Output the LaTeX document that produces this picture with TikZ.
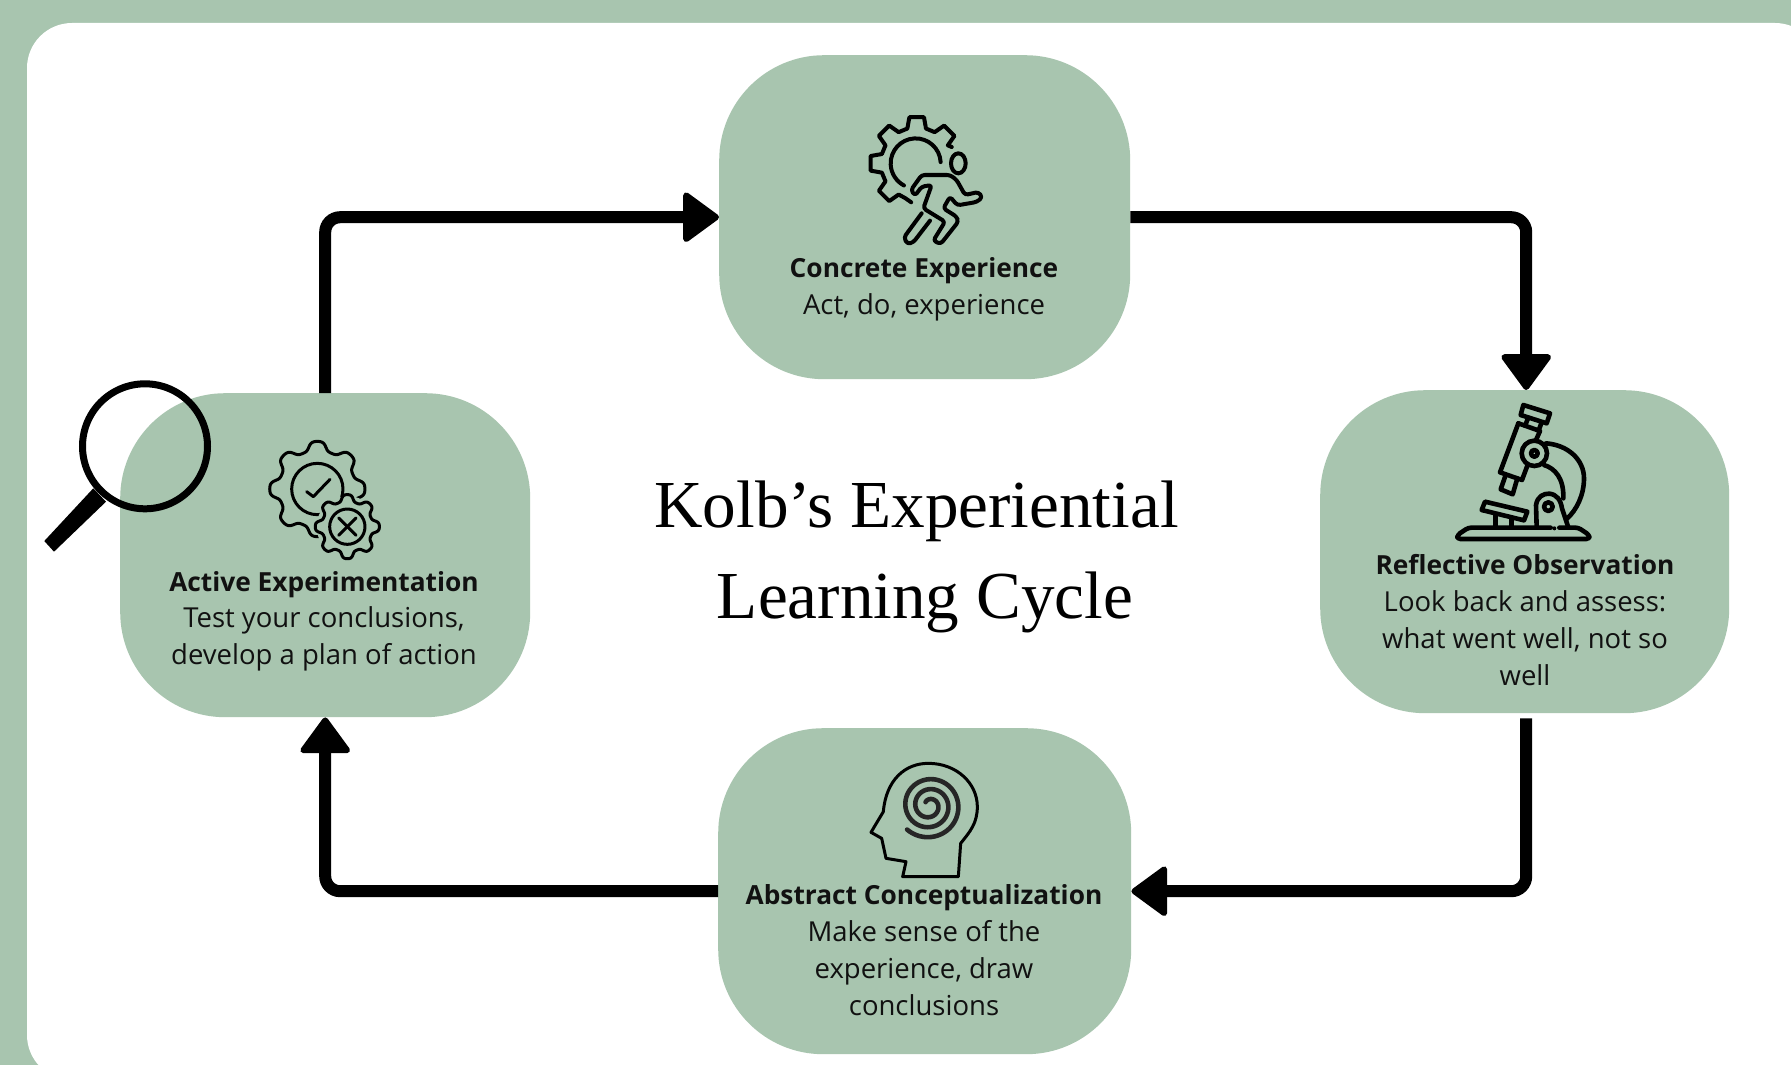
\documentclass[tikz,border=0pt]{standalone}
\usepackage{fontspec}
\setmainfont{Open Sans}
\newfontfamily\titlefont{Liberation Serif}
\usetikzlibrary{arrows.meta}
\definecolor{sage}{HTML}{A8C5AF}
\definecolor{ink}{HTML}{111111}
\newcommand{\headline}[1]{{\fontsize{26.3}{36.7}\selectfont\textbf{#1}}}
\tikzset{
  x=1pt,y=-1pt,
  stage/.style={draw=none,fill=sage,rounded corners=105pt,inner sep=0pt,anchor=north west},
  flow/.style={draw=black,line width=12pt,rounded corners=15pt,
    -{Triangle[length=38pt,width=54pt,line width=6pt,round]}},
  lbl/.style={inner sep=0pt,align=center,anchor=base,text=ink,
    font=\fontsize{27.5}{36.7}\selectfont},
  ttl/.style={inner sep=0pt,anchor=base,text=black,
    font=\titlefont\fontsize{67.2}{91}\selectfont},
  icon/.style={draw=black,line width=4pt,line join=round,line cap=round},
  iconbold/.style={draw=black,line width=4.6pt,line join=round,line cap=round},
  iconthin/.style={draw=black,line width=3pt,line join=round,line cap=round},
}
\begin{document}
\begin{tikzpicture}
\useasboundingbox (0,0) rectangle (1791,1065);
\begin{scope}
\clip (0,0) rectangle (1791,1065);
\fill[sage] (0,0) rectangle (1791,1065);
\fill[white,rounded corners=45pt] (27,23) rectangle (1820,1080);
\end{scope}

% stages
\node[stage,minimum width=411pt,minimum height=324pt] (conc) at (719,55) {};
\node[stage,minimum width=409pt,minimum height=323pt] (refl) at (1320,390) {};
\node[stage,minimum width=413pt,minimum height=326pt] (abst) at (718,728) {};
\node[stage,minimum width=410pt,minimum height=324pt] (actv) at (120,393) {};

% connectors
\coordinate (reflout) at ([xshift=1.5pt,yshift=-5pt]refl.south);
\draw[flow] (conc.east) -| ([xshift=1.5pt]refl.north);
\draw[flow] (reflout) |- (abst.east);
\draw[flow] (abst.west) -| (actv.south);
\draw[flow] (actv.north) |- (conc.west);

% labels
\node[lbl] (concT) at (924,314) {\headline{Concrete Experience}\\Act, do, experience};
\node[lbl] (reflT) at (1525,685) {\headline{Reflective Observation}\\Look back and assess:\\what went well, not so\\well};
\node[lbl] (abstT) at (924,1015) {\headline{Abstract Conceptualization}\\Make sense of the\\experience, draw\\conclusions};
\node[lbl] (actvT) at (324,664.5) {\headline{Active Experimentation}\\Test your conclusions,\\develop a plan of action};
\node[ttl] (titleA) at (916.6,527) {Kolb’s Experiential};
\node[ttl] (titleB) at (925,618) {Learning Cycle};

% magnifier
\draw[line width=7pt,black] (145,446.3) circle[radius=62.5];
\fill[black] (93.3,488.3) -- (106,501.7) -- (54,551.7) -- (44.3,541) -- cycle;

% runner and gear
\begin{scope}[shift={(850,100)},scale=1/3]
  \begin{scope}[shift={(200,190)}]
    \draw[icon] (-25:116) -- (-30:108)
      \foreach \a in {45,90,135,180,225} { -- (-\a+15:108) -- (-\a+9:140) -- (-\a-9:140) -- (-\a-15:108) }
      -- (-252:110) -- (-262:118);
    \draw[icon] (-3:72) arc[start angle=-3,end angle=-242,radius=75];
  \end{scope}
  \draw[icon] (325,190) ellipse[x radius=22,y radius=30];
  \draw[icon,rounded corners=3pt] (215,225) -- (300,225) -- (320,240) -- (345,285) -- (385,276) -- (397,292) -- (380,306) -- (322,316) -- (300,290) -- (280,325) -- (320,350) -- (325,365) -- (272,432) -- (250,422) -- (285,365) -- (220,325) -- (245,255) -- (215,260) -- (195,287) -- (183,270) -- cycle;
  \draw[icon,rounded corners=3pt] (215,340) -- (162,412) -- (172,432) -- (190,427) -- (240,362);
\end{scope}

% microscope
\begin{scope}[shift={(1440,395)},scale=1/3]
  \draw[iconbold] (250,30) -- (330,55) -- (320,85) -- (242,60) -- cycle;
  \draw[iconbold] (265,68) -- (255,92);
  \draw[iconbold] (305,82) -- (296,106);
  \draw[iconbold] (235,85) -- (300,108) -- (288,135);
  \draw[iconbold] (235,85) -- (180,232) -- (246,255) -- (262,212);
  \draw[iconbold] (197,240) -- (182,283) -- (218,298) -- (232,250);
  \draw[iconbold] (283,175) circle[radius=38];
  \draw[iconbold] (283,175) circle[radius=10];
  \draw[iconbold] (318,145) .. controls (385,150) and (432,195) .. (432,250) .. controls (432,300) and (410,345) .. (380,372);
  \draw[iconbold] (312,210) .. controls (345,220) and (372,250) .. (370,310);
  \draw[iconbold] (290,397) -- (288,330) .. controls (292,305) and (310,295) .. (328,296) .. controls (350,298) and (362,315) .. (366,340) -- (385,397);
  \draw[iconbold] (325,335) circle[radius=13];
  \draw[iconbold] (135,320) -- (262,350) -- (252,376) -- (125,345) -- cycle;
  \draw[iconbold] (166,362) -- (166,397);
  \draw[iconbold] (215,374) -- (215,397);
  \draw[iconbold,rounded corners=3pt] (332,398) -- (85,398) -- (52,420) -- (52,432) -- (448,432) -- (448,420) -- (415,398) -- (358,398);
  \fill[black] (343,400) circle[radius=6];
\end{scope}

% head with spiral
\begin{scope}[shift={(860,755)},scale=1/3]
  \draw[iconthin] (128,365) -- (138,320) -- (78,310) -- (65,250) -- (33,232) -- (70,170) .. controls (78,75) and (135,25) .. (205,25) .. controls (290,25) and (352,85) .. (352,155) .. controls (352,205) and (330,230) .. (302,265) -- (295,365) -- cycle;
  \draw[black!85,line width=4.6pt,line cap=round,line join=round,shift={(208,152)}]
    plot[smooth,domain=-857:133,samples=200,variable=\t] ({(98-(133-\t)*0.08333)*cos(\t)},{(98-(133-\t)*0.08333)*sin(\t)});
\end{scope}

% double gears
\begin{scope}[shift={(260,430)},scale=1/3]
  \begin{scope}[shift={(172,177)}]
    \draw[iconthin] plot[smooth cycle,domain=0:358,samples=180,variable=\t] ({(129+15*tanh(1.6*cos(8*\t)))*cos(\t)},{(129+15*tanh(1.6*cos(8*\t)))*sin(\t)});
    \draw[iconthin] (0,0) circle[radius=77];
    \draw[iconthin] (-32,8) -- (-12,23) -- (38,-29);
  \end{scope}
  \begin{scope}[shift={(262,290)}]
    \fill[sage] (0,0) circle[radius=92];
    \draw[iconthin] plot[smooth cycle,domain=0:358,samples=180,variable=\t] ({(86+11*tanh(1.6*cos(8*\t)))*cos(\t)},{(86+11*tanh(1.6*cos(8*\t)))*sin(\t)});
    \draw[iconthin] (0,0) circle[radius=53];
    \draw[iconthin] (-26,-26) -- (26,26);
    \draw[iconthin] (-26,26) -- (26,-26);
  \end{scope}
\end{scope}
\end{tikzpicture}
\end{document}
